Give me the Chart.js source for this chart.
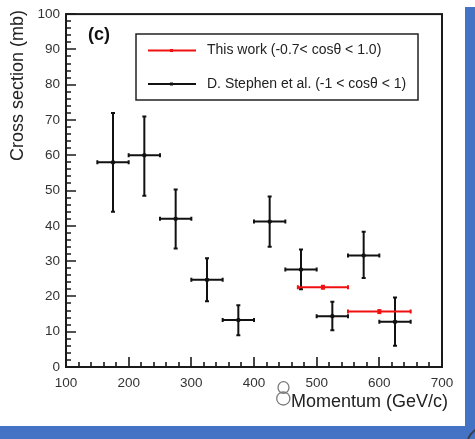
<!DOCTYPE html>
<html>
<head>
<meta charset="utf-8">
<script src="https://cdn.jsdelivr.net/npm/chart.js@4/dist/chart.umd.min.js"></script>
<style>
html,body{margin:0;padding:0;background:#fff}
#wrap{position:relative;width:475px;height:439px;overflow:hidden}
canvas{display:block}
</style>
</head>
<body>
<div id="wrap"><canvas id="c" width="475" height="439"></canvas></div>
<script>
// D. Stephen et al. (black)
const stephenX = [175,225,275,325,375,425,475,525,575,625]
const stephenY = [58,60,42,24.7,13.3,41.2,27.6,14.4,31.6,12.8]
const stephenXErr = [25,25,25,25,25,25,25,25,25,25]
const stephenYHi = [14,11,8.3,6.1,4.2,7.1,5.7,4.1,6.7,6.9]
const stephenYLo = [14,11.5,8.4,6.1,4.3,7.1,5.6,4.0,6.4,6.8]
// This work (red)
const workX = [510,600]
const workY = [22.6,15.7]
const workXLo = [40,50]
const workXHi = [40,50]
const workYErr = [0.6,0.6]

const xTicks = [100,200,300,400,500,600,700]
const yTicks = [0,10,20,30,40,50,60,70,80,90,100]

const FONT = '"Liberation Sans", Arial, Helvetica, sans-serif'

const toPts = (xs,ys)=>xs.map((x,i)=>({x, y:ys[i]}))

const errBars = {
  id:'errBars',
  afterDatasetsDraw(chart){
    const ctx = chart.ctx, xs = chart.scales.x, ys = chart.scales.y
    const cap = 2
    ctx.save()
    ctx.lineWidth = 2
    // black
    ctx.strokeStyle = '#111'
    stephenX.forEach((x,i)=>{
      const px = xs.getPixelForValue(x), py = ys.getPixelForValue(stephenY[i])
      const l = xs.getPixelForValue(x - stephenXErr[i]), r = xs.getPixelForValue(x + stephenXErr[i])
      const t = ys.getPixelForValue(stephenY[i] + stephenYHi[i]), b = ys.getPixelForValue(stephenY[i] - stephenYLo[i])
      ctx.beginPath()
      ctx.moveTo(l,py); ctx.lineTo(r,py)
      ctx.moveTo(px,t); ctx.lineTo(px,b)
      ctx.moveTo(l,py-cap); ctx.lineTo(l,py+cap)
      ctx.moveTo(r,py-cap); ctx.lineTo(r,py+cap)
      ctx.moveTo(px-cap,t); ctx.lineTo(px+cap,t)
      ctx.moveTo(px-cap,b); ctx.lineTo(px+cap,b)
      ctx.stroke()
    })
    // red
    ctx.strokeStyle = '#f01010'
    workX.forEach((x,i)=>{
      const px = xs.getPixelForValue(x), py = ys.getPixelForValue(workY[i])
      const l = xs.getPixelForValue(x - workXLo[i]), r = xs.getPixelForValue(x + workXHi[i])
      const t = ys.getPixelForValue(workY[i] + workYErr[i]), b = ys.getPixelForValue(workY[i] - workYErr[i])
      ctx.beginPath()
      ctx.moveTo(l,py); ctx.lineTo(r,py)
      ctx.moveTo(l,py-cap); ctx.lineTo(l,py+cap)
      ctx.moveTo(r,py-cap); ctx.lineTo(r,py+cap)
      ctx.stroke()
      ctx.fillStyle = '#f01010'
      ctx.fillRect(px-2, Math.min(t,py-2.5), 4, Math.max(b-t,5))
    })
    ctx.restore()
  }
}

const frame = {
  id:'frame',
  afterDraw(chart){
    const ctx = chart.ctx, a = chart.chartArea, xs = chart.scales.x, ys = chart.scales.y
    ctx.save()
    ctx.strokeStyle = '#1a1a1a'
    ctx.lineWidth = 2
    ctx.strokeRect(a.left, a.top, a.right-a.left, a.bottom-a.top)
    // inner ticks
    ctx.lineWidth = 1.6
    ctx.beginPath()
    for(let v=0; v<=100; v+=2){
      const py = Math.round(ys.getPixelForValue(v))
      const len = v%10===0 ? 10 : 5
      ctx.moveTo(a.left, py); ctx.lineTo(a.left+len, py)
    }
    for(let v=100; v<=700; v+=20){
      const px = Math.round(xs.getPixelForValue(v))
      const len = v%100===0 ? 10 : 5
      ctx.moveTo(px, a.bottom); ctx.lineTo(px, a.bottom-len)
    }
    ctx.stroke()

    // axis titles
    ctx.fillStyle = '#222'
    ctx.font = '18px '+FONT
    ctx.textAlign = 'right'
    ctx.textBaseline = 'middle'
    ctx.fillText('Momentum (GeV/c)', 448, 402)
    ctx.save()
    ctx.translate(18, 10)
    ctx.rotate(-Math.PI/2)
    ctx.textAlign = 'right'
    ctx.fillText('Cross section (mb)', 0, 0)
    ctx.restore()

    // stray "8" mark
    ctx.strokeStyle = '#7a7a7a'
    ctx.lineWidth = 1.3
    ctx.beginPath(); ctx.ellipse(283.5, 387.5, 5.5, 5.8, 0, 0, Math.PI*2); ctx.stroke()
    ctx.beginPath(); ctx.ellipse(283.3, 398.5, 6.6, 6.5, 0, 0, Math.PI*2); ctx.stroke()

    // panel label
    ctx.fillStyle = '#111'
    ctx.font = 'bold 18px '+FONT
    ctx.textAlign = 'left'
    ctx.fillText('(c)', 88, 35)

    // legend
    ctx.strokeStyle = '#222'
    ctx.lineWidth = 1.5
    ctx.strokeRect(136, 34, 282, 66)
    const rows = [
      {c:'#f01010', t:'This work (-0.7< cos\u03b8 < 1.0)', y:50.5},
      {c:'#111', t:'D. Stephen et al. (-1 < cos\u03b8 < 1)', y:84}
    ]
    ctx.font = '14px '+FONT
    rows.forEach(r=>{
      ctx.strokeStyle = r.c
      ctx.lineWidth = 2
      ctx.beginPath(); ctx.moveTo(148, r.y); ctx.lineTo(196, r.y); ctx.stroke()
      ctx.fillStyle = r.c
      ctx.fillRect(170, r.y-1.5, 3, 3)
      ctx.fillStyle = '#222'
      ctx.fillText(r.t, 207, r.y)
    })

    // blue page border
    ctx.fillStyle = '#4472c4'
    ctx.fillRect(465, 7, 10, 432)
    ctx.fillRect(0, 426, 475, 13)
    ctx.strokeStyle = '#3a3f4a'
    ctx.lineWidth = 2
    ctx.beginPath(); ctx.moveTo(475, 430); ctx.quadraticCurveTo(470, 434, 468, 439); ctx.stroke()
    ctx.restore()
  }
}

new Chart(document.getElementById('c'), {
  type:'scatter',
  data:{datasets:[
    {label:'This work', data:toPts(workX, workY), pointRadius:0, backgroundColor:'#f01010', borderColor:'#f01010'},
    {label:'D. Stephen et al.', data:toPts(stephenX, stephenY), pointRadius:2, pointStyle:'rect', backgroundColor:'#111', borderColor:'#111'}
  ]},
  options:{
    responsive:false,
    animation:false,
    layout:{padding:{left:0, right:33, top:12, bottom:0}},
    plugins:{legend:{display:false}, tooltip:{enabled:false}},
    scales:{
      x:{
        type:'linear', min:100, max:700,
        afterBuildTicks:s=>{ s.ticks = xTicks.map(v=>({value:v})) },
        afterFit:s=>{ s.height = 72 },
        grid:{display:false, drawTicks:false},
        border:{display:false},
        ticks:{color:'#333', font:{size:13.5, family:FONT}, padding:8, maxRotation:0, autoSkip:false}
      },
      y:{
        min:0, max:100,
        afterBuildTicks:s=>{ s.ticks = yTicks.map(v=>({value:v})) },
        afterFit:s=>{ s.width = 66 },
        grid:{display:false, drawTicks:false},
        border:{display:false},
        ticks:{color:'#333', font:{size:13.5, family:FONT}, padding:6, autoSkip:false}
      }
    }
  },
  plugins:[errBars, frame]
})
</script>
</body>
</html>
